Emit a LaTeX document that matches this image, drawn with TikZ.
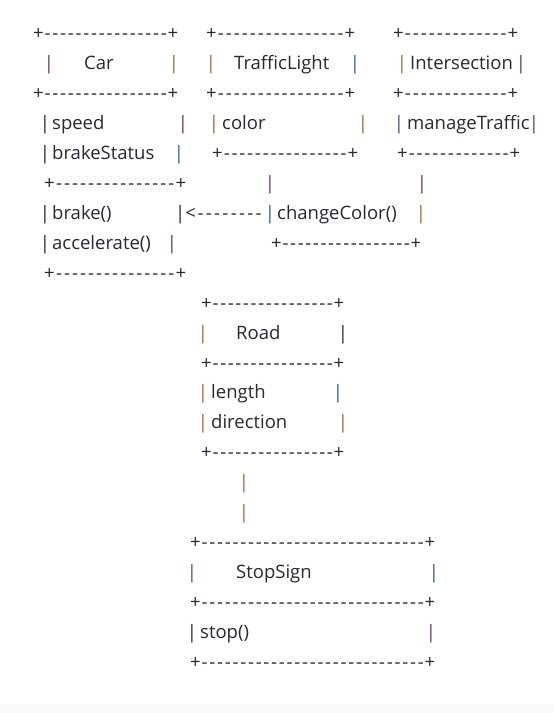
\documentclass[tikz,border=0pt]{standalone}
\usepackage{fontspec}
\setmainfont{Open Sans}
\usepackage{tikz}

\definecolor{ink}{RGB}{40,40,55}
\definecolor{pipeor}{RGB}{165,100,60}
\definecolor{pipebl}{RGB}{60,85,160}
\definecolor{pipepu}{RGB}{105,55,110}

\tikzset{
	txt/.style={anchor=base west, inner sep=0pt, text=ink,
		font=\fontsize{18.5bp}{22bp}\selectfont},
	pipe/.style={txt, anchor=base}
}

% a row of the form +-----+ from x1 to x2 at a baseline
\newcommand{\dashrow}[4]{%
	\node[txt] (#1) at (#2,#4)
		{\hbox to \dimexpr#3bp-#2bp\relax{+\xleaders\hbox{\kern.8bp-\kern.8bp}\hfill+}};}
% a single bar
\newcommand{\pipeat}[4]{\node[pipe, text=#4] (#1) at (#2,#3) {|};}

\begin{document}
\begin{tikzpicture}[x=1bp, y=-1bp]
% draw page
	\fill[white] (0,0) rectangle (554,713);
	\fill[black!2] (0,704) rectangle (554,713);
	\useasboundingbox (0,0) rectangle (554,713);

% draw Car, TrafficLight and Intersection headers
	\dashrow{carTop}{33}{178}{39.5}
	\dashrow{lightTop}{206}{355}{39.5}
	\dashrow{interTop}{393}{518}{39.5}
	\pipeat{carL}{49}{69.5}{pipepu}
	\node[txt] (car) at (84,69.5) {Car};
	\pipeat{carR}{174}{69.5}{pipeor}
	\pipeat{lightL}{211}{69.5}{pipeor}
	\node[txt] (light) at (234,69.5) {TrafficLight};
	\pipeat{lightR}{355}{69.5}{pipebl}
	\pipeat{interL}{402}{69.5}{pipeor}
	\node[txt] (inter) at (410,69.5) {Intersection};
	\pipeat{interR}{521}{69.5}{pipepu}
	\dashrow{carMid}{33}{178}{99.4}
	\dashrow{lightMid}{206}{355}{99.4}
	\dashrow{interMid}{393}{518}{99.4}

% draw attributes
	\pipeat{speedL}{45}{129.4}{ink}
	\node[txt] (speed) at (52,129.4) {speed};
	\pipeat{speedR}{183}{129.4}{pipepu}
	\pipeat{colorL}{214}{129.4}{pipeor}
	\node[txt] (color) at (222,129.4) {color};
	\pipeat{colorR}{363}{129.4}{pipeor}
	\pipeat{manageL}{399}{129.4}{pipebl}
	\node[txt] (manage) at (407,129.4) {manageTraffic};
	\pipeat{manageR}{534}{129.4}{pipepu}
	\pipeat{brakeSL}{45}{159.3}{ink}
	\node[txt] (brakeS) at (52,159.3) {brakeStatus};
	\pipeat{brakeSR}{179}{159.3}{pipebl}
	\dashrow{lightBot}{212}{358}{159.3}
	\dashrow{interBot}{397}{520}{159.3}

% draw methods and the link
	\dashrow{carSep}{44}{186}{189.3}
	\pipeat{lightLink}{270}{189.3}{pipepu}
	\pipeat{interLink}{422}{189.3}{pipepu}
	\pipeat{brakeL}{45}{219.2}{ink}
	\node[txt] (brake) at (52,219.2) {brake()};
	\node[txt] (arrow) at (175,219.2)
		{\hbox to 88bp{|<\xleaders\hbox{\kern.8bp-\kern.8bp}\hfill}};
	\pipeat{changeL}{270}{219.2}{pipebl}
	\node[txt] (change) at (277,219.2) {changeColor()};
	\pipeat{changeR}{421}{219.2}{pipeor}
	\pipeat{accelL}{45}{249.2}{ink}
	\node[txt] (accel) at (52,249.2) {accelerate()};
	\pipeat{accelR}{172}{249.2}{pipepu}
	\dashrow{changeBot}{271}{421}{249.2}
	\dashrow{carBot}{44}{186}{279.1}

% draw Road
	\dashrow{roadTop}{201}{344}{309.1}
	\pipeat{roadL}{203}{339}{pipeor}
	\node[txt] (road) at (236,339) {Road};
	\pipeat{roadR}{343}{339}{ink}
	\dashrow{roadMid}{201}{344}{369}
	\pipeat{lengthL}{203}{398.9}{pipeor}
	\node[txt] (length) at (211,398.9) {length};
	\pipeat{lengthR}{338}{398.9}{pipebl}
	\pipeat{dirL}{203}{428.9}{pipeor}
	\node[txt] (dir) at (211,428.9) {direction};
	\pipeat{dirR}{343}{428.9}{pipeor}
	\dashrow{roadBot}{201}{344}{458.8}
	\pipeat{roadLinkA}{244}{488.8}{pipeor}
	\pipeat{roadLinkB}{244}{518.7}{pipeor}

% draw StopSign
	\dashrow{stopTop}{190}{435}{548.7}
	\pipeat{signL}{192}{578.6}{pipebl}
	\node[txt] (sign) at (236,578.6) {StopSign};
	\pipeat{signR}{434}{578.6}{pipebl}
	\dashrow{stopMid}{190}{435}{608.6}
	\pipeat{stopL}{192}{638.5}{ink}
	\node[txt] (stop) at (200,638.5) {stop()};
	\pipeat{stopR}{431}{638.5}{pipepu}
	\dashrow{stopBot}{190}{435}{668.5}
\end{tikzpicture}
\end{document}
